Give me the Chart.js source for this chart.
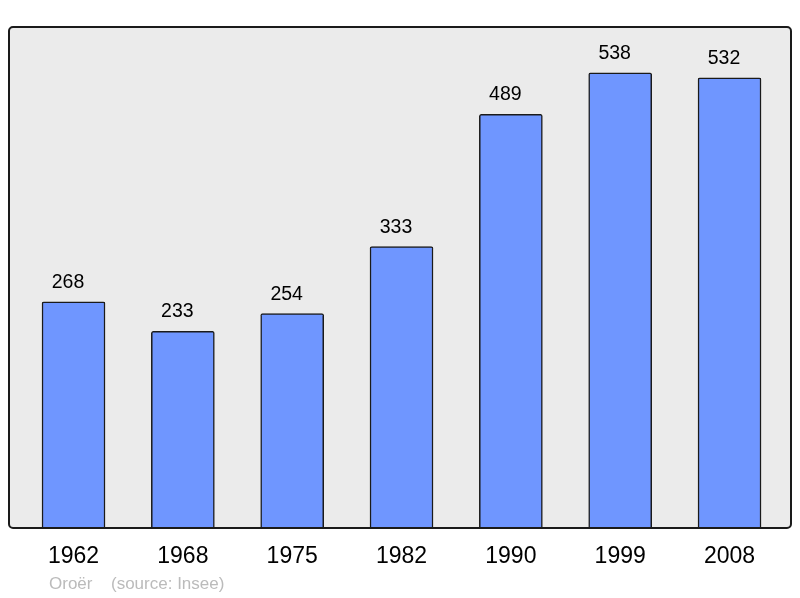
<!DOCTYPE html>
<html>
<head>
<meta charset="utf-8">
<script src="https://cdn.jsdelivr.net/npm/chart.js@4"></script>
<style>
  html, body { margin: 0; padding: 0; background: #fff; }
  #wrap { width: 800px; height: 598px; }
</style>
</head>
<body>
<div id="wrap"><canvas id="pop"></canvas></div>
<script>
// données
const annees = ['1962', '1968', '1975', '1982', '1990', '1999', '2008'];
const population = [268, 233, 254, 333, 489, 538, 532];
const commune = 'Oroër';
const source = '(source: Insee)';

// fond gris + cadre
const cadre = {
  id: 'cadre',
  beforeDraw(chart) {
    const ctx = chart.ctx;
    ctx.save();
    ctx.fillStyle = '#ebebeb';
    ctx.beginPath();
    ctx.roundRect(9, 27, 782, 501, 4);
    ctx.fill();
    ctx.restore();
  },
  afterDatasetsDraw(chart) {
    const ctx = chart.ctx;
    ctx.save();
    ctx.strokeStyle = '#1a1a1a';
    ctx.lineWidth = 2;
    ctx.beginPath();
    ctx.roundRect(9, 27, 782, 501, 4);
    ctx.stroke();
    ctx.restore();
  }
};

// valeurs au-dessus des barres (un peu décalées à gauche comme l'original)
const etiquettes = {
  id: 'etiquettes',
  afterDatasetsDraw(chart) {
    const ctx = chart.ctx;
    const meta = chart.getDatasetMeta(0);
    ctx.save();
    ctx.font = '19.5px "Liberation Sans", Arial, sans-serif';
    ctx.fillStyle = '#000';
    ctx.textAlign = 'center';
    ctx.textBaseline = 'alphabetic';
    meta.data.forEach((bar, i) => {
      ctx.fillText(population[i], bar.x - 5.5, bar.y - 14);
    });
    // pied de page
    ctx.font = '17px "Liberation Sans", Arial, sans-serif';
    ctx.fillStyle = '#bbbbbb';
    ctx.textAlign = 'left';
    ctx.textBaseline = 'middle';
    ctx.fillText(commune, 49, 584);
    ctx.fillText(source, 111, 584);
    ctx.restore();
  }
};

const config = {
  type: 'bar',
  data: {
    labels: annees,
    datasets: [{
      data: population,
      backgroundColor: '#6f96ff',
      borderColor: '#1a1a1a',
      borderWidth: 1.5,
      borderRadius: 2,
      borderSkipped: false,
      barThickness: 63
    }]
  },
  options: {
    responsive: true,
    maintainAspectRatio: false,
    animation: false,
    layout: {
      padding: { left: 18.85, right: 15.8, top: 27, bottom: 13.4 }
    },
    plugins: {
      legend: { display: false },
      tooltip: { enabled: false }
    },
    scales: {
      x: {
        grid: { display: false, drawTicks: false },
        border: { display: false },
        ticks: {
          padding: 14,
          color: '#000',
          font: { family: '"Liberation Sans", Arial, sans-serif', size: 23 }
        }
      },
      y: {
        display: false,
        min: 0,
        max: 592
      }
    }
  },
  plugins: [cadre, etiquettes]
};

const graphique = new Chart(document.getElementById('pop'), config);
</script>
</body>
</html>
